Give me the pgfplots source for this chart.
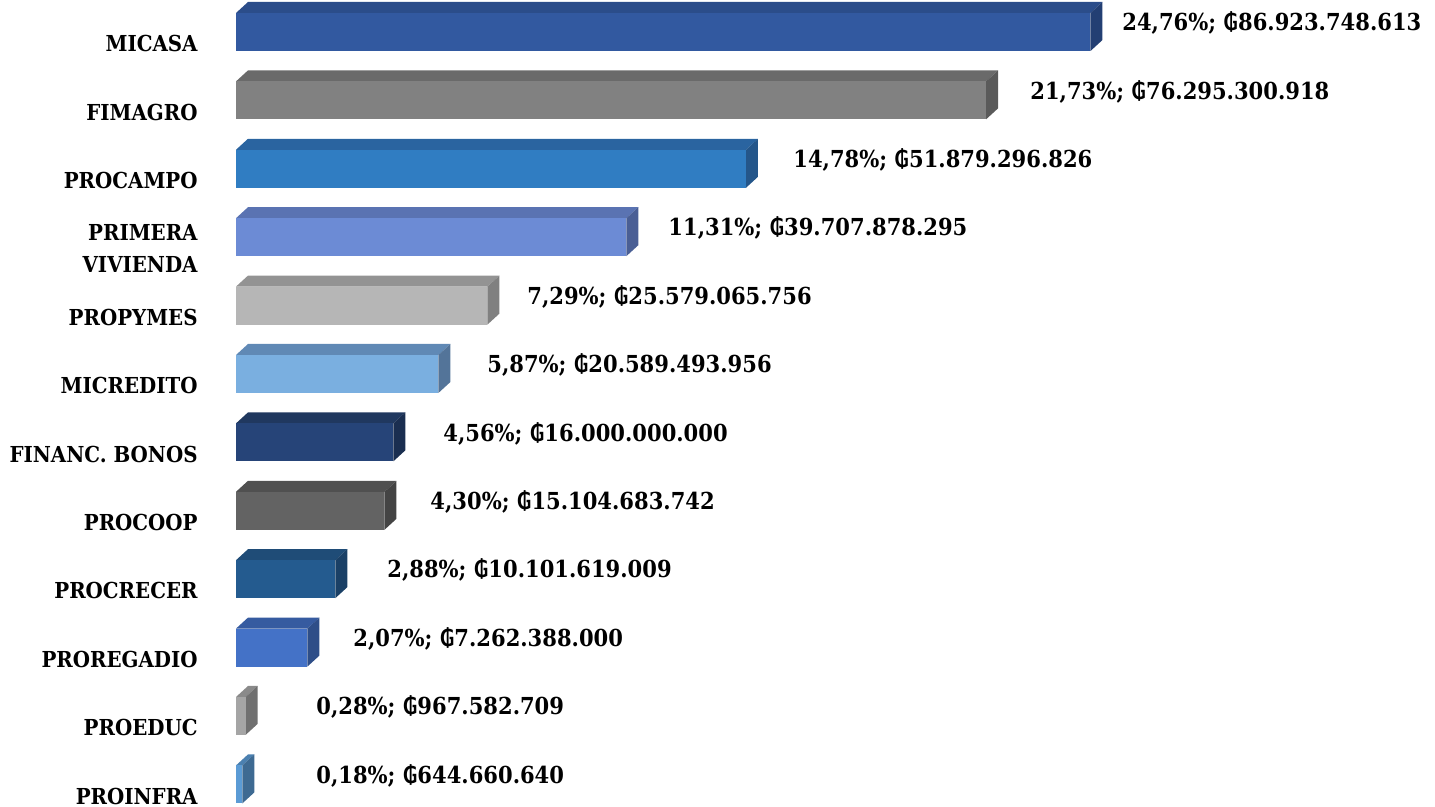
\documentclass[border=0pt]{standalone}
\usepackage{fontspec}
\setmainfont{DejaVu Serif}[FakeStretch=0.9]
\newfontfamily\gsfont{DejaVu Sans}[FakeStretch=0.9]
\newcommand{\G}{{\gsfont\bfseries ₲}}
\usepackage{pgfplots}
\pgfplotsset{compat=1.18}

% front / top / side colours of each bar
\definecolor{fA}{HTML}{3259A0}\definecolor{tA}{HTML}{2B4D8A}\definecolor{sA}{HTML}{233F73}
\definecolor{fB}{HTML}{818181}\definecolor{tB}{HTML}{6A6A6A}\definecolor{sB}{HTML}{5A5A5A}
\definecolor{fC}{HTML}{307DC2}\definecolor{tC}{HTML}{2A64A0}\definecolor{sC}{HTML}{24568A}
\definecolor{fD}{HTML}{6C8BD5}\definecolor{tD}{HTML}{5A73B2}\definecolor{sD}{HTML}{4A5F95}
\definecolor{fE}{HTML}{B6B6B6}\definecolor{tE}{HTML}{939393}\definecolor{sE}{HTML}{808080}
\definecolor{fF}{HTML}{7AAFE0}\definecolor{tF}{HTML}{6089B5}\definecolor{sF}{HTML}{537499}
\definecolor{fG}{HTML}{264478}\definecolor{tG}{HTML}{20385F}\definecolor{sG}{HTML}{1A2E50}
\definecolor{fH}{HTML}{636363}\definecolor{tH}{HTML}{505050}\definecolor{sH}{HTML}{444444}
\definecolor{fI}{HTML}{245B8F}\definecolor{tI}{HTML}{1F4C77}\definecolor{sI}{HTML}{1A4066}
\definecolor{fJ}{HTML}{4472C7}\definecolor{tJ}{HTML}{365BA0}\definecolor{sJ}{HTML}{2E4E88}
\definecolor{fK}{HTML}{A5A5A5}\definecolor{tK}{HTML}{8A8A8A}\definecolor{sK}{HTML}{707070}
\definecolor{fL}{HTML}{5B9BD5}\definecolor{tL}{HTML}{4B80B0}\definecolor{sL}{HTML}{3E6A92}

% #1 row, #2 value (billions), #3 front, #4 top, #5 side
\newcommand{\cubebar}[5]{%
  \pgfmathsetmacro{\ylo}{#1-0.2778}%
  \pgfmathsetmacro{\yhi}{#1+0.2778}%
  \pgfmathsetmacro{\ytop}{#1+0.2778+0.1608}%
  \pgfmathsetmacro{\ybk}{#1-0.2778+0.1608}%
  \pgfmathsetmacro{\xbk}{#2+1.2208}%
  \addplot[fill=#4, draw=none, mark=none] coordinates {(0,\yhi) (#2,\yhi) (\xbk,\ytop) (1.2208,\ytop)};
  \addplot[fill=#5, draw=none, mark=none] coordinates {(#2,\ylo) (#2,\yhi) (\xbk,\ytop) (\xbk,\ybk)};
  \addplot[fill=#3, draw=none, mark=none] coordinates {(0,\ylo) (#2,\ylo) (#2,\yhi) (0,\yhi)};
}

\tikzset{
  cat/.style={anchor=east, align=right, inner sep=0pt, font=\fontsize{11}{16}\selectfont\bfseries},
  val/.style={anchor=west, inner sep=0pt, font=\fontsize{11.7}{13}\selectfont\bfseries},
}

\begin{document}
\begin{tikzpicture}
\begin{axis}[
    scale only axis, width=717.5pt, height=403.5pt,
    xmin=-24.008, xmax=121.97,
    ymin=-0.3304, ymax=11.4678,
    hide axis, clip=false,
]
\cubebar{11}{86.923748613}{fA}{tA}{sA}
\cubebar{10}{76.295300918}{fB}{tB}{sB}
\cubebar{9}{51.879296826}{fC}{tC}{sC}
\cubebar{8}{39.707878295}{fD}{tD}{sD}
\cubebar{7}{25.579065756}{fE}{tE}{sE}
\cubebar{6}{20.589493956}{fF}{tF}{sF}
\cubebar{5}{16.000000000}{fG}{tG}{sG}
\cubebar{4}{15.104683742}{fH}{tH}{sH}
\cubebar{3}{10.101619009}{fI}{tI}{sI}
\cubebar{2}{7.262388000}{fJ}{tJ}{sJ}
\cubebar{1}{0.967582709}{fK}{tK}{sK}
\cubebar{0}{0.644660640}{fL}{tL}{sL}

% category names
\node[cat] at (axis cs:-3.866,10.828) {MICASA};
\node[cat] at (axis cs:-3.866,9.828) {FIMAGRO};
\node[cat] at (axis cs:-3.866,8.828) {PROCAMPO};
\node[cat] at (axis cs:-3.866,7.828) {PRIMERA\\VIVIENDA};
\node[cat] at (axis cs:-3.866,6.828) {PROPYMES};
\node[cat] at (axis cs:-3.866,5.828) {MICREDITO};
\node[cat] at (axis cs:-3.866,4.828) {FINANC. BONOS};
\node[cat] at (axis cs:-3.866,3.828) {PROCOOP};
\node[cat] at (axis cs:-3.866,2.828) {PROCRECER};
\node[cat] at (axis cs:-3.866,1.828) {PROREGADIO};
\node[cat] at (axis cs:-3.866,0.828) {PROEDUC};
\node[cat] at (axis cs:-3.866,-0.172) {PROINFRA};

% value labels
\node[val] at (axis cs:90.13,11.13) {24,76\%; \G86.923.748.613};
\node[val] at (axis cs:80.77,10.13) {21,73\%; \G76.295.300.918};
\node[val] at (axis cs:56.66,9.13) {14,78\%; \G51.879.296.826};
\node[val] at (axis cs:43.95,8.13) {11,31\%; \G39.707.878.295};
\node[val] at (axis cs:29.60,7.13) {7,29\%; \G25.579.065.756};
\node[val] at (axis cs:25.53,6.13) {5,87\%; \G20.589.493.956};
\node[val] at (axis cs:21.06,5.13) {4,56\%; \G16.000.000.000};
\node[val] at (axis cs:19.74,4.13) {4,30\%; \G15.104.683.742};
\node[val] at (axis cs:15.36,3.13) {2,88\%; \G10.101.619.009};
\node[val] at (axis cs:11.90,2.13) {2,07\%; \G7.262.388.000};
\node[val] at (axis cs:8.14,1.13) {0,28\%; \G967.582.709};
\node[val] at (axis cs:8.14,0.13) {0,18\%; \G644.660.640};
\end{axis}
\pgfresetboundingbox
\useasboundingbox (current axis.south west) rectangle (current axis.north east);
\end{tikzpicture}
\end{document}
